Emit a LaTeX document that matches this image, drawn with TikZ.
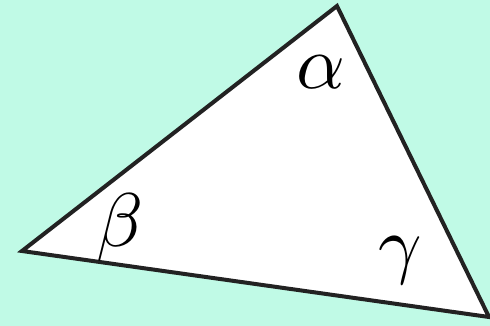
\documentclass[tikz,border=0pt]{standalone}
\usepackage{amsmath}
\usepackage{xcolor}
\definecolor{mint}{HTML}{C0FAE6}
\definecolor{edgegray}{HTML}{222222}

\begin{document}
\begin{tikzpicture}[
  x=1pt,y=-1pt,  side/.style={draw=edgegray,line width=4pt,fill=white},  anglabel/.style={inner sep=0pt,scale=7.6}
]
  \fill[mint] (0,0) rectangle (490,326);
  \useasboundingbox (0,0) rectangle (490,326);
  \coordinate (v0) at (337,6);
  \coordinate (v1) at (22,251);
  \coordinate (v2) at (489,317);
  \draw[side] (v0) -- (v1) -- (v2) -- cycle;
  \node[anglabel] (a0) at (321,72) {$\alpha$};
  \node[anglabel] (a1) at (120,227) {$\beta$};
  \node[anglabel] (a2) at (400,261) {$\gamma$};
\end{tikzpicture}
\end{document}
